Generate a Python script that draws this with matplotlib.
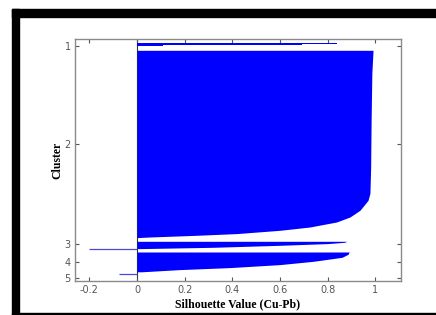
import matplotlib
matplotlib.use("Agg")
import matplotlib.pyplot as plt
from matplotlib.patches import Rectangle

# ============================================================
# Data (rows counted from the top of the axes, silhouette values)
# ============================================================

c1_rows = [3.7, 4.7, 6.0]
c1_heights = [1.0, 1.3, 1.0]
c1_values = [0.84, 0.69, 0.11]

c2_rows = [11, 34, 81, 128, 154, 161, 171, 177.7, 182.7, 187.7, 191, 194.3, 196, 197.7, 198.3]
c2_values = [0.99, 0.985, 0.982, 0.98, 0.977, 0.969, 0.935, 0.893, 0.837, 0.725, 0.60, 0.418, 0.25, 0.055, 0.0]

c3_rows = [202, 203, 204.3, 206, 208, 209.3]
c3_values = [0.88, 0.87, 0.80, 0.60, 0.32, 0.02]

c4_rows = [212.7, 215, 218, 222, 225.3, 228.3, 230.3, 232.5]
c4_values = [0.89, 0.885, 0.86, 0.74, 0.60, 0.39, 0.18, 0.02]

neg_rows = [209.6, 234.3]
neg_values = [-0.2, -0.074]

cluster_ticks = [6.5, 105, 204.5, 222.5, 238.3]
cluster_labels = ["1", "2", "3", "4", "5"]

x_ticks = [-0.2, 0, 0.2, 0.4, 0.6, 0.8, 1.0]
x_labels = ["-0.2", "0", "0.2", "0.4", "0.6", "0.8", "1"]

BLUE = "#0000ff"
GRAY = "#8a8a8a"

# ============================================================
# Figure
# ============================================================

W, H = 436, 315
fig = plt.figure(figsize=(W / 100, H / 100), dpi=100)
fig.patch.set_facecolor("white")

# black frame from the scanned picture
fig.patches.append(Rectangle((12 / W, 1 - 16.7 / H), 1, 7.4 / H,
                             transform=fig.transFigure, color="black", zorder=0))
fig.patches.append(Rectangle((12 / W, 0), 7.3 / W, 1 - 9.3 / H,
                             transform=fig.transFigure, color="black", zorder=0))
fig.patches.append(Rectangle((12 / W, 0.5 / H), 1, 1.8 / H,
                             transform=fig.transFigure, color="black", zorder=0))

ax = fig.add_axes([75 / W, 34 / H, 325.7 / W, 241.7 / H])

ax.axvline(0, color="#333333", lw=0.8, zorder=1)

ax.barh(c1_rows, c1_values, height=c1_heights, align="edge", color=BLUE, lw=0, zorder=2)
ax.fill_betweenx(c2_rows, 0, c2_values, color=BLUE, lw=0, zorder=2)
ax.fill_betweenx(c3_rows, 0, c3_values, color=BLUE, lw=0, zorder=2)
ax.fill_betweenx(c4_rows, 0, c4_values, color=BLUE, lw=0, zorder=2)
ax.hlines(neg_rows, neg_values, 0, color="#4a4ad8", lw=0.9, zorder=2)

ax.set_xlim(-0.26, 1.106)
ax.set_ylim(241.7, 0)

ax.set_xticks(x_ticks)
ax.set_xticklabels(x_labels)
ax.set_yticks(cluster_ticks)
ax.set_yticklabels(cluster_labels)
ax.tick_params(direction="in", length=3, width=0.8, color="#555555",
               top=True, right=True, labelsize=7, labelcolor="#555555", pad=3)

for s in ax.spines.values():
    s.set_color(GRAY)
    s.set_linewidth(1.0)

ax.set_xlabel("Silhouette Value (Cu-Pb)", family="Liberation Serif",
              fontweight="bold", fontsize=8.5, labelpad=2)
ax.set_ylabel("Cluster", family="Liberation Serif",
              fontweight="bold", fontsize=8.5, labelpad=1)

fig.savefig("out.png", dpi=100)
